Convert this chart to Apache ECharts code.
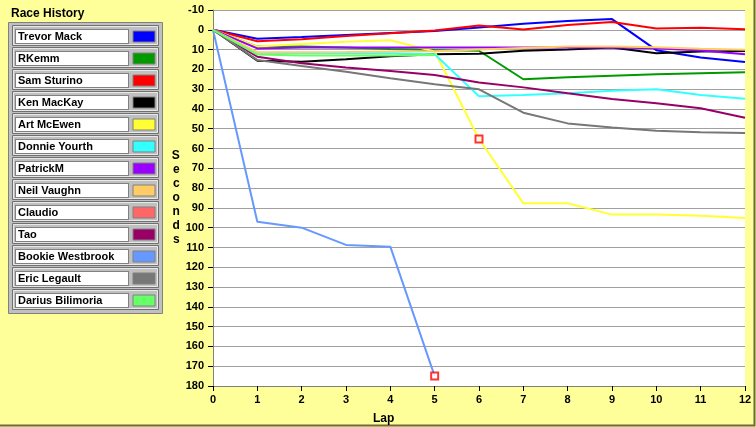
<!DOCTYPE html>
<html>
<head>
<meta charset="utf-8">
<script src="https://cdn.jsdelivr.net/npm/echarts@6/dist/echarts.min.js"></script>
<style>
html, body { margin: 0; padding: 0; background: #ffff99; }
#chart { width: 756px; height: 427px; }
</style>
</head>
<body>
<div id="chart"></div>
<script>
// race data: seconds behind leader per lap
var laps = ['0','1','2','3','4','5','6','7','8','9','10','11','12'];
var names = ['Trevor Mack','RKemm','Sam Sturino','Ken MacKay','Art McEwen','Donnie Yourth','PatrickM',
             'Neil Vaughn','Claudio','Tao','Bookie Westbrook','Eric Legault','Darius Bilimoria'];
var colors = ['#0000ff','#009900','#ff0000','#000000','#ffff33','#33ffff','#9900ff',
              '#ffcc66','#ff6666','#990066','#6699ff','#777777','#66ff66'];

var trevor  = [0, 4.5, 3.6, 2.6, 1.6, 0.6, -1.2, -3, -4.4, -5.4, 10.3, 14, 16.3];
var rkemm   = [0, 8.5, 8.5, 9, 9.7, 10.2, 10.6, 25, 24, 23.2, 22.5, 22, 21.5];
var sam     = [0, 5.8, 4.8, 3.2, 1.8, 0.3, -2.2, -0.2, -2.4, -3.9, -0.6, -1, -0.3];
var ken     = [0, 15.6, 16.1, 14.9, 13.4, 12.4, 12.1, 10.6, 9.9, 9.0, 11.9, 11.0, 10.7];
var art     = [0, 8.5, 7.2, 6, 5.3, 11, 55.2, 87.7, 87.7, 93.4, 93.4, 94, 95.1];
var donnie  = [0, 11.6, 11.9, 11.9, 11.9, 12.4, 33.6, 33, 32.1, 30.8, 30.1, 32.9, 34.8];
var patrick = [0, 9.4, 9, 9, 9, 9, 8.9, 8.9, 8.9, 8.9, 9.3, 10.5, 12.4];
var neil    = [0, 11.3, 11.3, 11.2, 11, 10.8, 10, 9.2, 8.4, 8.4, 8.8, 9.6, 10.1];
var claudio = [0];
var tao     = [0, 13.6, 16.9, 19.1, 20.8, 22.8, 26.6, 29.1, 32.1, 35, 37.1, 39.7, 44.4];
var bookie  = [0, 97, 100, 108.7, 109.6, 175];
var eric    = [0, 15.3, 18.3, 21.2, 24.5, 27.5, 30.1, 41.9, 47.3, 49.4, 51, 51.8, 52.1];
var darius  = [0, 12.5, 13, 13, 13, 12.8];

var markLap = ['6', '5'];
var markSec = [55.2, 175];

var allData = [trevor, rkemm, sam, ken, art, donnie, patrick, neil, claudio, tao, bookie, eric, darius];

var font = 'Liberation Sans';

var series = names.map(function (n, i) {
    return {
        name: n,
        type: 'line',
        data: allData[i],
        showSymbol: false,
        symbol: 'none',
        lineStyle: { color: colors[i], width: 2 },
        itemStyle: { color: colors[i] },
        animation: false
    };
});
series.push({
    name: 'marks',
    type: 'scatter',
    data: markLap.map(function (l, i) { return [l, markSec[i]]; }),
    symbol: 'rect',
    symbolSize: 7,
    itemStyle: { color: '#ffffff', borderColor: '#ff0000', borderWidth: 2 },
    z: 5,
    animation: false
});

// legend panel frames + outer window edge
var graphics = [{
    type: 'rect', z: 0,
    shape: { x: 8.5, y: 22.5, width: 154, height: 291 },
    style: { fill: '#c0c0c0', stroke: '#808080', lineWidth: 1 }
}, {
    type: 'polyline', z: 0,
    shape: { points: [[0, 425.5], [754.5, 425.5], [754.5, 0]] },
    style: { stroke: '#6b6b3a', lineWidth: 2, fill: 'none' }
}];
names.forEach(function (n, i) {
    graphics.push({
        type: 'rect', z: 1,
        shape: { x: 12.5, y: 25.5 + 22 * i, width: 146, height: 20 },
        style: { fill: '#c0c0c0', stroke: '#707070', lineWidth: 1 }
    });
    graphics.push({
        type: 'rect', z: 1,
        shape: { x: 13.5, y: 26.5 + 22 * i, width: 144, height: 18 },
        style: { fill: 'none', stroke: '#e8e8e8', lineWidth: 1 }
    });
});

var option = {
    backgroundColor: '#ffff99',
    animation: false,
    title: [
        { text: 'Race History', left: 6, top: 3,
          textStyle: { fontFamily: font, fontWeight: 'bold', fontSize: 12, color: '#000' } },
        { text: 'Lap', left: 368, top: 408,
          textStyle: { fontFamily: font, fontWeight: 'bold', fontSize: 12, color: '#000' } }
    ],
    graphic: graphics,
    legend: {
        orient: 'vertical',
        left: 15,
        top: 29,
        padding: 0,
        align: 'right',
        icon: 'rect',
        itemWidth: 22,
        itemHeight: 11,
        itemGap: 7,
        selectedMode: false,
        data: names,
        itemStyle: { borderColor: '#808080', borderWidth: 1 },
        formatter: '{n|{name}}',
        textStyle: {
            fontFamily: font, fontWeight: 'bold', fontSize: 11, color: '#000',
            rich: {
                n: {
                    fontFamily: font, fontWeight: 'bold', fontSize: 11, color: '#000',
                    align: 'left',
                    backgroundColor: '#ffffff', width: 108, height: 13, lineHeight: 13,
                    padding: [0, 2, 0, 2], borderColor: '#808080', borderWidth: 1
                }
            }
        }
    },
    grid: {
        left: 213, right: 11, top: 10, bottom: 41,
        show: true, backgroundColor: '#ffffff', borderWidth: 0
    },
    xAxis: {
        type: 'category',
        data: laps,
        boundaryGap: false,
        axisLine: { show: true, onZero: false, lineStyle: { color: '#808080', width: 1 } },
        axisTick: { show: true, length: 5, lineStyle: { color: '#000' } },
        axisLabel: { fontFamily: font, fontWeight: 'bold', fontSize: 11, color: '#000', margin: 8 },
        splitLine: { show: false }
    },
    yAxis: {
        type: 'value',
        inverse: true,
        min: -10,
        max: 180,
        interval: 10,
        name: 'S\ne\nc\no\nn\nd\ns',
        nameLocation: 'middle',
        nameRotate: 0,
        nameGap: 32,
        nameTextStyle: { fontFamily: font, fontWeight: 'bold', fontSize: 12, color: '#000', lineHeight: 14 },
        axisLine: { show: true, lineStyle: { color: '#808080', width: 1 } },
        axisTick: { show: true, length: 5, lineStyle: { color: '#000' } },
        axisLabel: { fontFamily: font, fontWeight: 'bold', fontSize: 11, color: '#000', margin: 9 },
        splitLine: { show: true, lineStyle: { color: '#a0a0a0', width: 1 } }
    },
    series: series
};

var chart = echarts.init(document.getElementById('chart'));
chart.setOption(option);
</script>
</body>
</html>
